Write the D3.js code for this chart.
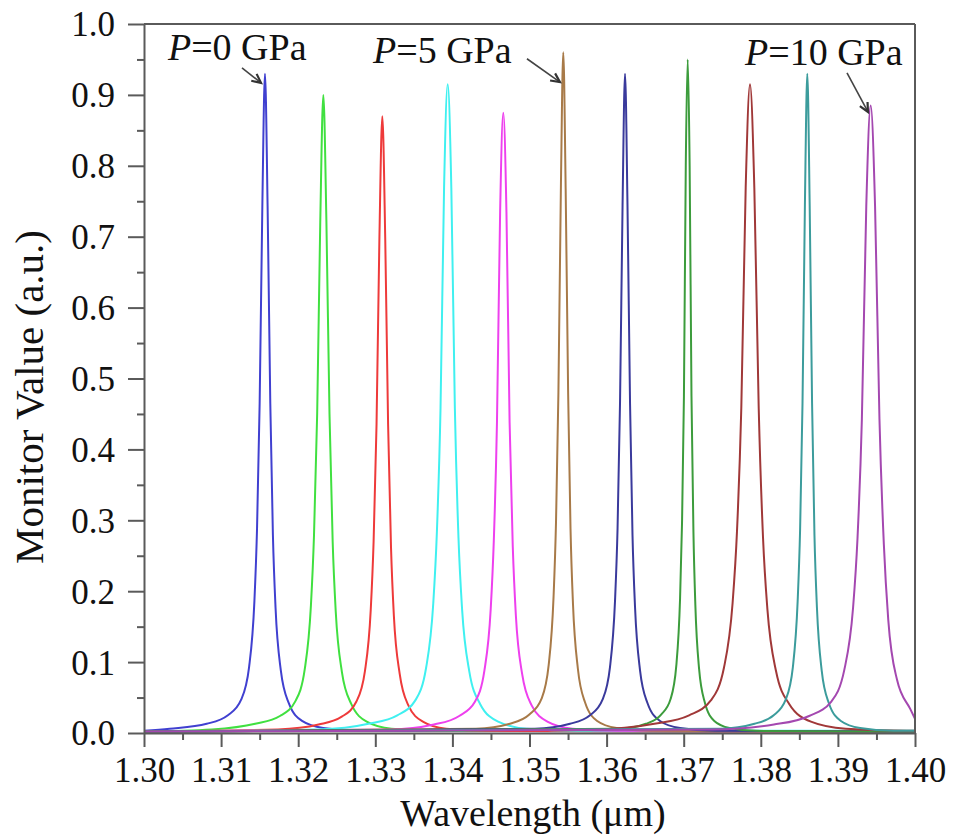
<!DOCTYPE html>
<html>
<head>
<meta charset="utf-8">
<script src="https://cdn.jsdelivr.net/npm/d3@7"></script>
<style>
  body { margin: 0; background: #fff; }
  svg { display: block; }
</style>
</head>
<body>
<svg id="chart" width="955" height="838"></svg>
<script>
// wavelength (um) / monitor value pairs, one array per pressure
var curveP0 = [[1.300,0.003],[1.30332,0.006],[1.30813,0.013],[1.31088,0.025],[1.31260,0.047],[1.31363,0.093],[1.31432,0.186],[1.31466,0.288],[1.31500,0.465],[1.31535,0.744],[1.31569,0.930],[1.31603,0.744],[1.31638,0.465],[1.31672,0.279],[1.31706,0.177],[1.31775,0.088],[1.31878,0.042],[1.32050,0.017],[1.32325,0.007],[1.32806,0.003],[1.400,0.002]]
var curveP1 = [[1.300,0.002],[1.30879,0.005],[1.31442,0.013],[1.31763,0.024],[1.31964,0.045],[1.32085,0.090],[1.32165,0.180],[1.32205,0.279],[1.32246,0.450],[1.32286,0.720],[1.32326,0.900],[1.32366,0.720],[1.32406,0.450],[1.32447,0.270],[1.32487,0.171],[1.32567,0.086],[1.32688,0.041],[1.32889,0.016],[1.33210,0.006],[1.33773,0.003],[1.400,0.002]]
var curveP2 = [[1.300,0.002],[1.31737,0.005],[1.32264,0.012],[1.32565,0.023],[1.32753,0.044],[1.32865,0.087],[1.32941,0.174],[1.32978,0.270],[1.33016,0.435],[1.33053,0.696],[1.33091,0.870],[1.33129,0.696],[1.33166,0.435],[1.33204,0.261],[1.33241,0.165],[1.33317,0.083],[1.33429,0.039],[1.33617,0.016],[1.33918,0.006],[1.34445,0.003],[1.400,0.002]]
var curveP3 = [[1.300,0.002],[1.32258,0.005],[1.32912,0.013],[1.33285,0.025],[1.33519,0.046],[1.33659,0.092],[1.33752,0.183],[1.33799,0.284],[1.33846,0.458],[1.33892,0.769],[1.33939,0.915],[1.33986,0.769],[1.34032,0.458],[1.34079,0.275],[1.34126,0.174],[1.34219,0.087],[1.34359,0.041],[1.34593,0.016],[1.34966,0.006],[1.35620,0.003],[1.400,0.003]]
var curveP4 = [[1.300,0.002],[1.33189,0.005],[1.33761,0.012],[1.34088,0.024],[1.34292,0.044],[1.34415,0.088],[1.34497,0.175],[1.34537,0.271],[1.34578,0.438],[1.34619,0.735],[1.34660,0.875],[1.34701,0.735],[1.34742,0.438],[1.34783,0.263],[1.34823,0.166],[1.34905,0.083],[1.35028,0.039],[1.35232,0.016],[1.35559,0.006],[1.36131,0.003],[1.400,0.002]]
var curveP5 = [[1.300,0.002],[1.34306,0.006],[1.34746,0.013],[1.34998,0.026],[1.35155,0.048],[1.35249,0.096],[1.35312,0.192],[1.35344,0.298],[1.35375,0.480],[1.35407,0.768],[1.35438,0.960],[1.35469,0.768],[1.35501,0.480],[1.35532,0.288],[1.35564,0.182],[1.35627,0.091],[1.35721,0.043],[1.35878,0.017],[1.36130,0.007],[1.36570,0.003],[1.400,0.002]]
var curveP6 = [[1.300,0.002],[1.35071,0.006],[1.35525,0.013],[1.35785,0.025],[1.35947,0.047],[1.36044,0.093],[1.36109,0.186],[1.36142,0.288],[1.36174,0.465],[1.36207,0.744],[1.36239,0.930],[1.36271,0.744],[1.36304,0.465],[1.36336,0.279],[1.36369,0.177],[1.36434,0.088],[1.36531,0.042],[1.36693,0.017],[1.36953,0.007],[1.37407,0.003],[1.400,0.002]]
var curveP7 = [[1.300,0.002],[1.36165,0.006],[1.36510,0.013],[1.36707,0.026],[1.36830,0.048],[1.36904,0.095],[1.36953,0.190],[1.36978,0.295],[1.37003,0.475],[1.37027,0.800],[1.37052,0.950],[1.37077,0.800],[1.37101,0.475],[1.37126,0.285],[1.37151,0.181],[1.37200,0.090],[1.37274,0.043],[1.37397,0.017],[1.37594,0.007],[1.37939,0.003],[1.400,0.002]]
var curveP8 = [[1.300,0.002],[1.35830,0.005],[1.36619,0.013],[1.37070,0.025],[1.37352,0.046],[1.37522,0.092],[1.37634,0.183],[1.37691,0.284],[1.37747,0.458],[1.37804,0.769],[1.37860,0.915],[1.37916,0.769],[1.37973,0.458],[1.38029,0.275],[1.38086,0.174],[1.38198,0.087],[1.38368,0.041],[1.38650,0.016],[1.39101,0.006],[1.39890,0.003],[1.400,0.003]]
var curveP9 = [[1.300,0.002],[1.37482,0.006],[1.37918,0.013],[1.38167,0.025],[1.38323,0.047],[1.38416,0.093],[1.38478,0.186],[1.38510,0.288],[1.38541,0.465],[1.38572,0.744],[1.38603,0.930],[1.38634,0.744],[1.38665,0.465],[1.38696,0.279],[1.38728,0.177],[1.38790,0.088],[1.38883,0.042],[1.39039,0.017],[1.39288,0.007],[1.39724,0.003],[1.400,0.003]]
var curveP10 = [[1.300,0.002],[1.37371,0.005],[1.38170,0.012],[1.38626,0.024],[1.38912,0.044],[1.39083,0.089],[1.39197,0.177],[1.39254,0.274],[1.39311,0.443],[1.39368,0.743],[1.39425,0.885],[1.39482,0.743],[1.39539,0.443],[1.39596,0.266],[1.39653,0.160],[1.39767,0.075],[1.39938,0.034],[1.400,0.020]]

var curves = [curveP0, curveP1, curveP2, curveP3, curveP4, curveP5, curveP6, curveP7, curveP8, curveP9, curveP10]
var curveColors = ["#4040d0", "#40e040", "#ee3a3a", "#40f0f0", "#ee40ee", "#a87a48",
                   "#3a3a9c", "#3c9c3c", "#a03838", "#3c9c9c", "#a448b0"]

var xTicks = [1.30, 1.31, 1.32, 1.33, 1.34, 1.35, 1.36, 1.37, 1.38, 1.39, 1.40]
var xMinorTicks = [1.305, 1.315, 1.325, 1.335, 1.345, 1.355, 1.365, 1.375, 1.385, 1.395]
var yTicks = [0.0, 0.1, 0.2, 0.3, 0.4, 0.5, 0.6, 0.7, 0.8, 0.9, 1.0]
var yMinorTicks = [0.05, 0.15, 0.25, 0.35, 0.45, 0.55, 0.65, 0.75, 0.85, 0.95]

// labels: [wavelength, value] of the text start, then arrow tail and head
var labelPressures = ["0", "5", "10"]
var labelAnchors = [[1.30311, 0.949], [1.32970, 0.945], [1.37795, 0.942]]
var arrowTails = [[1.31271, 0.938], [1.34967, 0.951], [1.39118, 0.931]]
var arrowHeads = [[1.31518, 0.917], [1.35395, 0.918], [1.39390, 0.876]]

var SERIF = "Liberation Serif, Times New Roman, serif"
var AXIS_COLOR = "#5a5a5a"

var margin = {top: 24, right: 40, bottom: 105, left: 144}
var W = 955, H = 838

var svg = d3.select("#chart")

var x = d3.scaleLinear().domain([1.30, 1.40]).range([margin.left, W - margin.right])
var y = d3.scaleLinear().domain([0, 1]).range([H - margin.bottom, margin.top])

svg.append("clipPath").attr("id", "plotClip")
  .append("rect")
    .attr("x", x(1.30))
    .attr("y", y(1.0) - 2)
    .attr("width", x(1.40) - x(1.30))
    .attr("height", y(0) - y(1.0) + 2)

// curves
var line = d3.line()
  .x(function(d) { return x(d[0]) })
  .y(function(d) { return y(d[1]) })
  .curve(d3.curveMonotoneX)

svg.append("g").attr("clip-path", "url(#plotClip)")
  .selectAll(".curve")
  .data(curves)
.enter().append("path")
  .attr("class", "curve")
  .attr("fill", "none")
  .attr("stroke", function(d, i) { return curveColors[i] })
  .attr("stroke-width", 2)
  .attr("d", line)

// frame: top and right
svg.append("line")
  .attr("x1", x(1.30)).attr("x2", x(1.40))
  .attr("y1", y(1.0)).attr("y2", y(1.0))
  .attr("stroke", AXIS_COLOR).attr("stroke-width", 2)
svg.append("line")
  .attr("x1", x(1.40)).attr("x2", x(1.40))
  .attr("y1", y(1.0)).attr("y2", y(0))
  .attr("stroke", AXIS_COLOR).attr("stroke-width", 2)

function styleAxis(g) {
  g.attr("font-family", SERIF).attr("font-size", 35)
  g.selectAll(".domain").attr("stroke", AXIS_COLOR).attr("stroke-width", 2)
  g.selectAll(".tick line").attr("stroke", AXIS_COLOR).attr("stroke-width", 2)
  g.selectAll(".tick text").attr("fill", "#111")
    .attr("font-family", SERIF).attr("font-size", 35)
}

// x axis
var xAxisG = svg.append("g")
  .attr("transform", "translate(0," + y(0) + ")")
  .call(d3.axisBottom(x).tickValues(xTicks).tickSize(14).tickSizeOuter(0)
    .tickFormat(d3.format(".2f")))
xAxisG.call(styleAxis)
xAxisG.selectAll(".tick text").attr("y", 49).attr("dy", null)

svg.append("g")
  .attr("transform", "translate(0," + y(0) + ")")
  .call(d3.axisBottom(x).tickValues(xMinorTicks).tickSize(7).tickFormat(""))
  .call(styleAxis)
  .select(".domain").remove()

// y axis
var yAxisG = svg.append("g")
  .attr("transform", "translate(" + x(1.30) + ",0)")
  .call(d3.axisLeft(y).tickValues(yTicks).tickSize(16).tickSizeOuter(0)
    .tickFormat(d3.format(".1f")))
yAxisG.call(styleAxis)
yAxisG.selectAll(".tick text").attr("x", -29).attr("dy", "0.34em")

svg.append("g")
  .attr("transform", "translate(" + x(1.30) + ",0)")
  .call(d3.axisLeft(y).tickValues(yMinorTicks).tickSize(7).tickFormat(""))
  .call(styleAxis)
  .select(".domain").remove()

// axis titles
svg.append("text")
  .attr("x", 533)
  .attr("y", 826)
  .attr("text-anchor", "middle")
  .attr("font-family", SERIF)
  .attr("font-size", 38)
  .attr("fill", "#111")
  .text("Wavelength (\u03bcm)")

svg.append("text")
  .attr("transform", "translate(43," + 397 + ") rotate(-90)")
  .attr("text-anchor", "middle")
  .attr("font-family", SERIF)
  .attr("font-size", 41)
  .attr("fill", "#111")
  .text("Monitor Value (a.u.)")

// pressure labels with arrows
labelPressures.forEach(function(p, i) {
  var t = svg.append("text")
    .attr("x", x(labelAnchors[i][0]))
    .attr("y", y(labelAnchors[i][1]))
    .attr("font-family", SERIF)
    .attr("font-size", 38)
    .attr("fill", "#111")
  t.append("tspan").attr("font-style", "italic").text("P")
  t.append("tspan").text("=" + p + " GPa")

  var x1 = x(arrowTails[i][0]), y1 = y(arrowTails[i][1])
  var x2 = x(arrowHeads[i][0]), y2 = y(arrowHeads[i][1])
  var ang = Math.atan2(y2 - y1, x2 - x1)
  var headLen = 10, spread = 0.45
  svg.append("line")
    .attr("x1", x1).attr("y1", y1).attr("x2", x2).attr("y2", y2)
    .attr("stroke", "#444").attr("stroke-width", 1.6)
  svg.append("path")
    .attr("d", "M" + (x2 - headLen * Math.cos(ang - spread)) + "," + (y2 - headLen * Math.sin(ang - spread)) +
      "L" + x2 + "," + y2 +
      "L" + (x2 - headLen * Math.cos(ang + spread)) + "," + (y2 - headLen * Math.sin(ang + spread)))
    .attr("fill", "none")
    .attr("stroke", "#333").attr("stroke-width", 2.2)
})
</script>
</body>
</html>
